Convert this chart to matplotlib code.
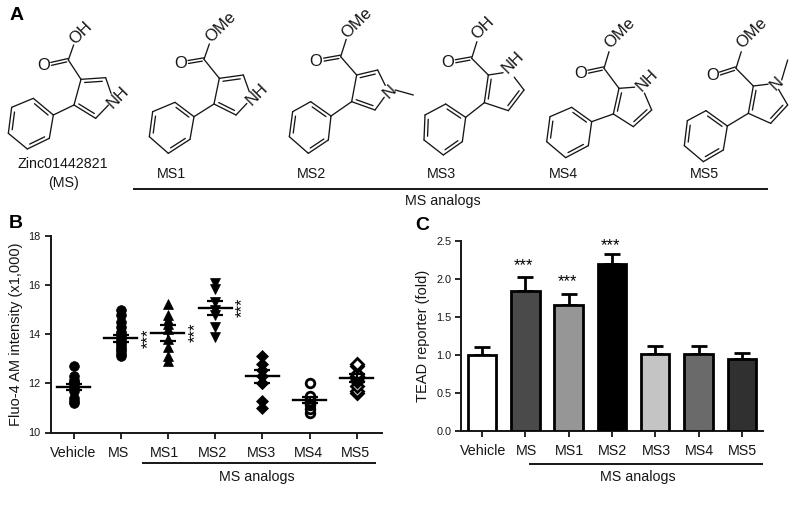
import numpy as np
import matplotlib
matplotlib.use("Agg")
import matplotlib.pyplot as plt
from matplotlib.transforms import ScaledTranslation

plt.rcParams['font.family'] = ['Liberation Sans', 'DejaVu Sans']

W, H = 799, 517
INK = '#161616'

# ---------- data ----------
categories = ['Vehicle', 'MS', 'MS1', 'MS2', 'MS3', 'MS4', 'MS5']

vehicle_pts = [11.2, 11.3, 11.4, 11.7, 11.8, 11.9, 12.0, 12.05, 12.15, 12.3, 12.7]
ms_pts = [13.1, 13.2, 13.3, 13.4, 13.5, 13.6, 13.7, 13.8, 13.9, 14.0, 14.1, 14.3, 14.5, 14.8, 15.0]
ms1_pts = [12.9, 13.1, 13.5, 13.8, 14.2, 14.4, 14.6, 14.8, 15.25]
ms2_pts = [13.9, 14.3, 14.8, 15.0, 15.3, 15.85, 16.1]
ms3_pts = [11.0, 11.3, 12.0, 12.0, 12.3, 12.55, 12.8, 13.1]
ms4_pts = [10.8, 10.95, 11.1, 11.2, 11.3, 11.4, 11.5, 12.0]
ms5_pts = [11.6, 11.7, 11.9, 12.1, 12.2, 12.3, 12.4, 12.7, 12.8]
scatter_groups = [vehicle_pts, ms_pts, ms1_pts, ms2_pts, ms3_pts, ms4_pts, ms5_pts]
scatter_means = [11.87, 13.83, 14.05, 15.08, 12.28, 11.33, 12.22]
scatter_sems = [0.12, 0.15, 0.33, 0.28, 0.27, 0.12, 0.18]
scatter_star_y = [13.85, 14.09, 15.11]

reporter_vals = [1.0, 1.84, 1.65, 2.19, 1.01, 1.01, 0.95]
reporter_errs = [0.11, 0.18, 0.15, 0.13, 0.11, 0.11, 0.07]
reporter_colors = ['#ffffff', '#4a4a4a', '#969696', '#000000', '#c4c4c4', '#6a6a6a', '#303030']
reporter_star_y = [2.17, 1.96, 2.43]

fig = plt.figure(figsize=(W / 100, H / 100), dpi=100, facecolor='white')


def axes_px(x0, y_top, x1, y_bot, **kw):
    return fig.add_axes([x0 / W, 1 - y_bot / H, (x1 - x0) / W, (y_bot - y_top) / H], **kw)


# overlay in pixel units for the chemistry drawing and annotations
ov = fig.add_axes([0, 0, 1, 1], zorder=5)
ov.set_xlim(0, W)
ov.set_ylim(H, 0)
ov.axis('off')
ov.patch.set_alpha(0)


def Z(p):
    return np.array(p, float) / 3


def seg(a, b, lw=0.95):
    ov.plot([a[0], b[0]], [a[1], b[1]], color=INK, lw=lw, solid_capstyle='round')


def bond(a, b, ta=0.0, tb=0.0):
    a, b = Z(a), Z(b)
    d = b - a
    L = np.hypot(*d)
    u = d / L
    seg(a + u * ta, b - u * tb)


def inner(a, b, c, off=3.4, shrink=0.16):
    a, b = Z(a), Z(b)
    c = np.array(c, float) / 3
    m = (a + b) / 2
    n = c - m
    n /= np.hypot(*n)
    d = b - a
    seg(a + d * shrink + n * off, b - d * shrink + n * off)


def atom(txt, p, rot=0, size=12):
    p = Z(p)
    ov.text(p[0], p[1], txt, fontsize=size, rotation=rot, ha='center', va='center',
            rotation_mode='anchor', color=INK)


def molecule(phenyl, link, ring, n_index, ring_doubles, carbonyl, ring_c,
             o_double, o_single, tail_txt, tail_xy, n_txt, n_xy, methyl=None):
    cen = np.mean(phenyl, axis=0)
    for i in range(6):
        bond(phenyl[i], phenyl[(i + 1) % 6])
    for i in (0, 2, 4):
        inner(phenyl[i], phenyl[(i + 1) % 6], cen)
    bond(phenyl[1], link)
    rc = np.mean(ring, axis=0)
    for i in range(5):
        j = (i + 1) % 5
        ta = 7 if i == n_index else 0
        tb = 7 if j == n_index else 0
        bond(ring[i], ring[j], ta, tb)
    for i, j in ring_doubles:
        inner(ring[i], ring[j], rc, shrink=0.14)
    bond(ring_c, carbonyl)
    # C=O
    c, o = Z(carbonyl), Z(o_double)
    u = (o - c) / np.hypot(*(o - c))
    n = np.array([-u[1], u[0]])
    end = np.hypot(*(o - c)) - 8
    seg(c + n * 1.5, c + u * end + n * 1.5)
    seg(c - n * 1.5 + u * 2, c + u * end - n * 1.5)
    atom('O', o_double)
    bond(carbonyl, o_single, 0, 7)
    atom(tail_txt, tail_xy, rot=45)
    atom(n_txt, n_xy, rot=45)
    if methyl is not None:
        bond(methyl[0], methyl[1])


# MS
molecule([(100, 295), (160, 345), (148, 415), (82, 447), (25, 400), (35, 322)], (222, 315),
         [(222, 315), (243, 238), (317, 233), (340, 300), (287, 355)], 3, [(0, 4), (1, 2)],
         (205, 180), (243, 238), (130, 197), (228, 115), 'OH', (242, 98), 'NH', (355, 293))
# MS1
molecule([(525, 307), (582, 350), (570, 418), (505, 460), (448, 410), (458, 335)], (642, 312),
         [(642, 312), (658, 235), (730, 225), (755, 295), (708, 345)], 3, [(0, 4), (1, 2)],
         (612, 178), (658, 235), (541, 190), (635, 112), 'OMe', (663, 82), 'NH', (772, 283))
# MS2
molecule([(932, 305), (993, 348), (985, 420), (925, 460), (868, 410), (878, 335)], (1055, 305),
         [(1055, 305), (1070, 225), (1133, 210), (1165, 275), (1125, 330)], 3, [(0, 4), (1, 2)],
         (1022, 170), (1070, 225), (948, 183), (1045, 98), 'OMe', (1070, 70), 'N', (1170, 275),
         methyl=((1186, 270), (1240, 285)))
# MS3
x = 1200
molecule([(x + 137, 312), (x + 197, 352), (x + 187, 425), (x + 130, 465), (x + 72, 420), (x + 75, 345)], (x + 253, 308),
         [(x + 253, 308), (x + 265, 225), (x + 330, 215), (x + 372, 270), (x + 325, 332)], 2, [(0, 1), (3, 4)],
         (x + 215, 175), (x + 265, 225), (x + 143, 188), (x + 237, 105), 'OH', (x + 250, 85), 'NH', (x + 340, 187))
# MS4
molecule([(x + 515, 322), (x + 575, 365), (x + 565, 437), (x + 497, 473), (x + 440, 425), (x + 450, 350)], (x + 640, 342),
         [(x + 640, 342), (x + 657, 265), (x + 725, 260), (x + 755, 330), (x + 700, 380)], 2, [(0, 1), (3, 4)],
         (x + 612, 205), (x + 657, 265), (x + 541, 220), (x + 633, 135), 'OMe', (x + 660, 100), 'NH', (x + 742, 240))
# MS5
molecule([(x + 918, 332), (x + 982, 378), (x + 970, 450), (x + 910, 485), (x + 853, 437), (x + 862, 362)], (x + 1045, 340),
         [(x + 1045, 340), (x + 1060, 258), (x + 1125, 250), (x + 1163, 315), (x + 1112, 370)], 2, [(0, 1), (3, 4)],
         (x + 1008, 205), (x + 1060, 258), (x + 937, 228), (x + 1030, 135), 'OMe', (x + 1055, 100), 'N', (x + 1130, 250),
         methyl=((x + 1145, 240), (x + 1163, 180)))

# panel A labels
for txt, px, py in [('Zinc01442821', 62.5, 164.5), ('(MS)', 63.5, 183.5), ('MS1', 171, 173.5), ('MS2', 311, 173.5),
                    ('MS3', 441.5, 173.5), ('MS4', 563, 173.5), ('MS5', 704, 173.5), ('MS analogs', 442.5, 201.5)]:
    ov.text(px, py, txt, fontsize=10.3, ha='center', va='center', color=INK)
ov.plot([134, 767], [188.5, 188.5], color=INK, lw=1.4)

# panel letters
for txt, px, py in [('A', 17, 15), ('B', 15.5, 223), ('C', 422, 225)]:
    ov.text(px, py, txt, fontsize=14, fontweight='bold', ha='center', va='center', color='black')


def style(ax):
    for s in ('top', 'right'):
        ax.spines[s].set_visible(False)
    for s in ('left', 'bottom'):
        ax.spines[s].set_linewidth(1.4)
        ax.spines[s].set_color(INK)
    ax.patch.set_alpha(0)
    ax.tick_params(axis='both', length=4.5, width=1.3, color=INK)
    ax.tick_params(axis='y', labelsize=7.8, pad=2.5, labelcolor=INK)
    ax.tick_params(axis='x', labelsize=10.3, pad=5, labelcolor=INK)


# ---------- panel B ----------
ax_b = axes_px(50.5, 236, 382, 432.5)
positions = np.arange(len(categories))
ax_b.set_xlim((50.5 - 73.5) / 47.2, (382 - 73.5) / 47.2)
ax_b.set_ylim(10, 18)
markers = ['o', 'o', '^', 'v', 'D', 'o', 'D']
hollow = [False, False, False, False, False, True, True]
sizes = [7.0, 7.0, 7.2, 7.2, 6.0, 6.2, 5.8]
for i, pts in enumerate(scatter_groups):
    ax_b.plot([positions[i]] * len(pts), pts, ls='none', marker=markers[i], ms=sizes[i],
              mfc='white' if hollow[i] else 'black', mec='black', mew=2.0 if hollow[i] else 0.5,
              clip_on=False, zorder=3)
    m, s = scatter_means[i], scatter_sems[i]
    ax_b.plot([positions[i] - 0.35, positions[i] + 0.35], [m, m], color='black', lw=1.7, zorder=4)
    ax_b.errorbar(positions[i], m, yerr=s, color='black', elinewidth=1.5, capsize=6, capthick=1.6, zorder=4)
ax_b.set_xticks(positions, categories)
ax_b.set_yticks([10, 12, 14, 16, 18])
ax_b.set_ylabel('Fluo-4 AM intensity (x1,000)', fontsize=10.5, labelpad=4, color=INK)
style(ax_b)
for lab, dx in zip(ax_b.get_xticklabels(), [0, -2, -3, -3, -1, -1, -1]):
    lab.set_transform(lab.get_transform() + ScaledTranslation(dx / 100, 0, fig.dpi_scale_trans))
for i, yv in enumerate(scatter_star_y):
    ax_b.text(positions[i + 1] + 0.58, yv, '***', rotation=90, fontsize=12, ha='center', va='center',
              color='black')
ov.plot([143, 375], [463, 463], color=INK, lw=1.4)
ov.text(257, 477, 'MS analogs', fontsize=10.3, ha='center', va='center', color=INK)

# ---------- panel C ----------
ax_c = axes_px(461, 240.7, 763, 431)
ax_c.set_xlim((461 - 482) / 43.3, (763 - 482) / 43.3)
ax_c.set_ylim(0, 2.5)
ax_c.bar(positions, reporter_vals, width=0.66, color=reporter_colors, edgecolor='black', linewidth=2.0, zorder=3)
ax_c.errorbar(positions, reporter_vals, yerr=[np.zeros(7), reporter_errs], fmt='none', ecolor='black',
              elinewidth=2.0, capsize=5.5, capthick=2.0, zorder=2)
ax_c.set_xticks(positions, categories)
ax_c.set_yticks([0, 0.5, 1.0, 1.5, 2.0, 2.5], ['0.0', '0.5', '1.0', '1.5', '2.0', '2.5'])
ax_c.set_ylabel('TEAD reporter (fold)', fontsize=10.5, labelpad=4, color=INK)
style(ax_c)
for lab in ax_c.get_xticklabels():
    lab.set_transform(lab.get_transform() + ScaledTranslation(1 / 100, 0, fig.dpi_scale_trans))
for i, dx, yv in zip((1, 2, 3), (-0.05, -0.02, -0.03), reporter_star_y):
    ax_c.text(positions[i] + dx, yv, '***', fontsize=12, ha='center', va='center', color='black')
ov.plot([530, 762], [463.5, 463.5], color=INK, lw=1.4)
ov.text(638, 477, 'MS analogs', fontsize=10.3, ha='center', va='center', color=INK)

fig.savefig('out.png', dpi=100, facecolor='white')
